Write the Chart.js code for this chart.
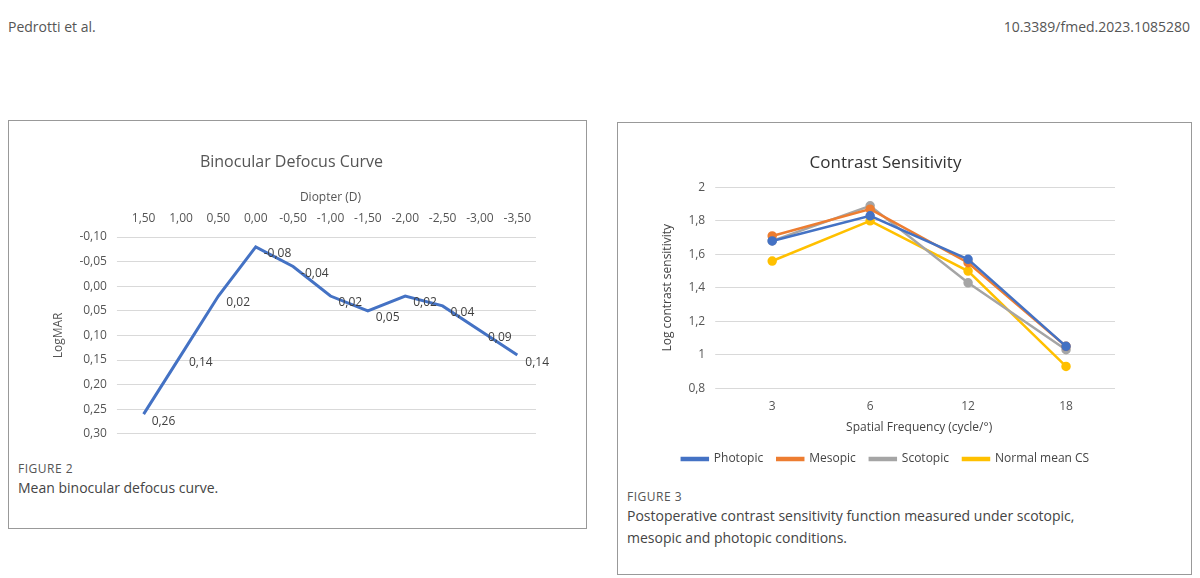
<!DOCTYPE html>
<html><head><meta charset="utf-8">
<script src="https://cdn.jsdelivr.net/npm/chart.js@4"></script>
<style>
body{margin:0;width:1200px;height:578px;background:#fff;font-family:"Open Sans",sans-serif;position:relative;overflow:hidden}
.hdr{position:absolute;top:17px;font-size:14px;color:#555}
.box{position:absolute;border:1px solid #999;background:#fff}
.cap{position:absolute;left:9px;font-size:14px;color:#444;line-height:22px}
.cap b{display:block;font-weight:normal;font-size:12px;color:#555;letter-spacing:0.5px;line-height:16px}
canvas{position:absolute;left:0;top:0}
</style></head><body>
<div class="hdr" style="left:8px">Pedrotti et al.</div>
<div class="hdr" style="right:10px">10.3389/fmed.2023.1085280</div>
<div class="box" style="left:8px;top:120px;width:577px;height:407px">
  <div style="position:absolute;left:0;top:0;width:577px;height:330px"><canvas id="defocus"></canvas></div>
  <div class="cap" style="top:340px"><b>FIGURE 2</b>Mean binocular defocus curve.</div>
</div>
<div class="box" style="left:617px;top:122px;width:573px;height:451px">
  <div style="position:absolute;left:0;top:0;width:573px;height:358px"><canvas id="cs"></canvas></div>
  <div class="cap" style="top:366px"><b>FIGURE 3</b>Postoperative contrast sensitivity function measured under scotopic,<br>mesopic and photopic conditions.</div>
</div>
<script>
const diopters = ['1,50','1,00','0,50','0,00','-0,50','-1,00','-1,50','-2,00','-2,50','-3,00','-3,50'];
const logmar = [0.26, 0.14, 0.02, -0.08, -0.04, 0.02, 0.05, 0.02, 0.04, 0.09, 0.14];

const freqs = ['3', '6', '12', '18'];
const photopic = [1.68, 1.83, 1.57, 1.05];
const mesopic = [1.71, 1.87, 1.55, 1.05];
const scotopic = [1.68, 1.89, 1.43, 1.03];
const normalCS = [1.56, 1.80, 1.50, 0.93];

const comma = (v, d) => v.toFixed(d).replace('.', ',');
const font = { family: '"Open Sans", sans-serif', size: 12 };

// value labels next to each point
const pointLabels = {
  id: 'pointLabels',
  afterDatasetsDraw(chart) {
    const ctx = chart.ctx;
    ctx.save();
    ctx.font = '12px "Open Sans", sans-serif';
    ctx.fillStyle = '#404040';
    ctx.textBaseline = 'middle';
    chart.getDatasetMeta(0).data.forEach((pt, i) => {
      ctx.fillText(comma(logmar[i], 2), pt.x + 8, pt.y + 7);
    });
    ctx.restore();
  }
};

new Chart(document.getElementById('defocus'), {
  type: 'line',
  data: { labels: diopters, datasets: [{ data: logmar, borderColor: '#4472c4', borderWidth: 3, pointRadius: 0, tension: 0 }] },
  options: {
    responsive: true, maintainAspectRatio: false, animation: false,
    layout: { padding: { left: 38, right: 50, top: 14, bottom: 0 } },
    plugins: {
      legend: { display: false }, tooltip: { enabled: false },
      title: { display: true, text: 'Binocular Defocus Curve', color: '#555', font: { family: font.family, size: 16, weight: 'normal' }, padding: { top: 18, bottom: 14 } }
    },
    scales: {
      x: { position: 'top', offset: true, grid: { display: false }, border: { display: false },
           ticks: { color: '#555', font, maxRotation: 0, autoSkip: false },
           title: { display: true, text: 'Diopter (D)', color: '#555', font } },
      y: { reverse: true, min: -0.10, max: 0.30, grid: { color: '#d9d9d9' }, border: { display: false },
           ticks: { stepSize: 0.05, color: '#555', font, padding: 10, callback: v => comma(v, 2) },
           title: { display: true, text: 'LogMAR', color: '#555', font } }
    }
  },
  plugins: [pointLabels]
});

const mk = (label, data, color) => ({ label, data, borderColor: color, backgroundColor: color, borderWidth: 2.5, pointRadius: 3.5, pointHoverRadius: 3.5, tension: 0 });

new Chart(document.getElementById('cs'), {
  type: 'line',
  data: { labels: freqs, datasets: [
    mk('Photopic', photopic, '#4472c4'),
    mk('Mesopic', mesopic, '#ed7d31'),
    mk('Scotopic', scotopic, '#a5a5a5'),
    mk('Normal mean CS', normalCS, '#ffc000')
  ] },
  options: {
    responsive: true, maintainAspectRatio: false, animation: false,
    layout: { padding: { left: 38, right: 76, top: 14, bottom: 6 } },
    plugins: {
      tooltip: { enabled: false },
      title: { display: true, text: 'Contrast Sensitivity', color: '#333', font: { family: font.family, size: 17, weight: 'normal' }, padding: { top: 16, bottom: 14 } },
      legend: { position: 'bottom', labels: { color: '#444', font, boxWidth: 26, boxHeight: 2, padding: 14 } }
    },
    scales: {
      x: { offset: true, grid: { display: false }, border: { display: false },
           ticks: { color: '#555', font },
           title: { display: true, text: 'Spatial Frequency (cycle/°)', color: '#444', font } },
      y: { min: 0.8, max: 2, grid: { color: '#d9d9d9' }, border: { display: false },
           ticks: { stepSize: 0.2, color: '#555', font, padding: 10, callback: v => v === 1 || v === 2 ? String(v) : comma(v, 1) },
           title: { display: true, text: 'Log contrast sensitivity', color: '#444', font } }
    }
  }
});
</script>
</body></html>
